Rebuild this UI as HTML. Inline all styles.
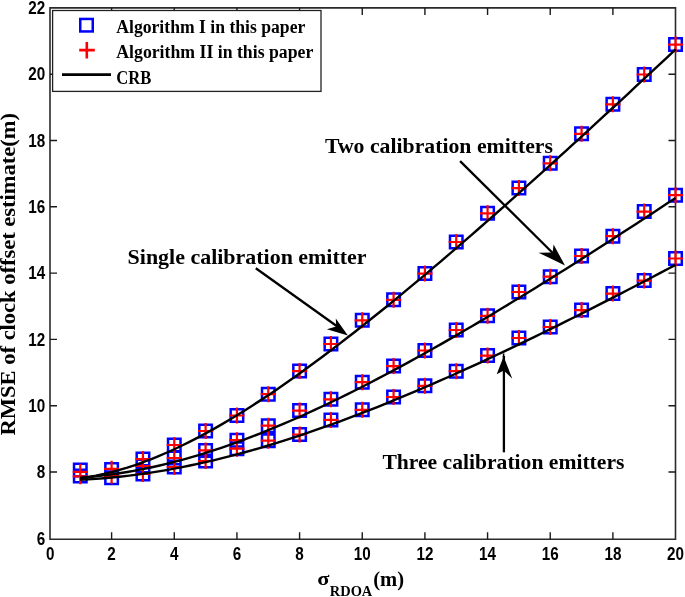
<!DOCTYPE html>
<html><head><meta charset="utf-8"><style>
html,body{margin:0;padding:0;background:#fff;width:685px;height:597px;overflow:hidden}
svg{display:block;will-change:transform}
text{fill:#000}
</style></head><body>
<svg width="685" height="597" viewBox="0 0 685 597">
<rect width="685" height="597" fill="#fff"/>
<path d="M50.0 7.9H675.5V539.3H50.0Z" fill="none" stroke="#2a2a2a" stroke-width="1.6"/>
<path d="M111.61 539.3v-7M111.61 7.9v7M174.27 539.3v-7M174.27 7.9v7M236.93 539.3v-7M236.93 7.9v7M299.59 539.3v-7M299.59 7.9v7M362.25 539.3v-7M362.25 7.9v7M424.91 539.3v-7M424.91 7.9v7M487.57 539.3v-7M487.57 7.9v7M550.23 539.3v-7M550.23 7.9v7M612.89 539.3v-7M612.89 7.9v7M50.0 472h7M675.5 472h-7M50.0 405.7h7M675.5 405.7h-7M50.0 339.4h7M675.5 339.4h-7M50.0 273.1h7M675.5 273.1h-7M50.0 206.8h7M675.5 206.8h-7M50.0 140.5h7M675.5 140.5h-7M50.0 74.2h7M675.5 74.2h-7" fill="none" stroke="#1a1a1a" stroke-width="1.4"/>
<path d="M74.03 463.75h12.5v12.5h-12.5zM105.36 463.25h12.5v12.5h-12.5zM136.69 452.85h12.5v12.5h-12.5zM168.02 438.75h12.5v12.5h-12.5zM199.35 424.75h12.5v12.5h-12.5zM230.68 409.25h12.5v12.5h-12.5zM262.01 387.95h12.5v12.5h-12.5zM293.34 364.85h12.5v12.5h-12.5zM324.67 337.75h12.5v12.5h-12.5zM356 314.05h12.5v12.5h-12.5zM387.33 293.55h12.5v12.5h-12.5zM418.66 267.35h12.5v12.5h-12.5zM449.99 235.75h12.5v12.5h-12.5zM481.32 207.05h12.5v12.5h-12.5zM512.65 181.85h12.5v12.5h-12.5zM543.98 157.05h12.5v12.5h-12.5zM575.31 127.55h12.5v12.5h-12.5zM606.64 98.05h12.5v12.5h-12.5zM637.97 68.25h12.5v12.5h-12.5zM669.3 38.35h12.5v12.5h-12.5zM74.03 469.75h12.5v12.5h-12.5zM105.36 471.55h12.5v12.5h-12.5zM136.69 459.75h12.5v12.5h-12.5zM168.02 451.75h12.5v12.5h-12.5zM199.35 444.15h12.5v12.5h-12.5zM230.68 433.95h12.5v12.5h-12.5zM262.01 419.45h12.5v12.5h-12.5zM293.34 404.35h12.5v12.5h-12.5zM324.67 393.05h12.5v12.5h-12.5zM356 375.95h12.5v12.5h-12.5zM387.33 359.85h12.5v12.5h-12.5zM418.66 344.25h12.5v12.5h-12.5zM449.99 323.75h12.5v12.5h-12.5zM481.32 309.55h12.5v12.5h-12.5zM512.65 285.75h12.5v12.5h-12.5zM543.98 270.45h12.5v12.5h-12.5zM575.31 249.75h12.5v12.5h-12.5zM606.64 229.95h12.5v12.5h-12.5zM637.97 205.35h12.5v12.5h-12.5zM669.3 188.95h12.5v12.5h-12.5zM74.03 469.75h12.5v12.5h-12.5zM105.36 471.55h12.5v12.5h-12.5zM136.69 467.75h12.5v12.5h-12.5zM168.02 460.75h12.5v12.5h-12.5zM199.35 454.75h12.5v12.5h-12.5zM230.68 442.45h12.5v12.5h-12.5zM262.01 434.45h12.5v12.5h-12.5zM293.34 428.25h12.5v12.5h-12.5zM324.67 413.65h12.5v12.5h-12.5zM356 403.55h12.5v12.5h-12.5zM387.33 390.75h12.5v12.5h-12.5zM418.66 379.55h12.5v12.5h-12.5zM449.99 364.95h12.5v12.5h-12.5zM481.32 349.35h12.5v12.5h-12.5zM512.65 331.75h12.5v12.5h-12.5zM543.98 320.75h12.5v12.5h-12.5zM575.31 303.85h12.5v12.5h-12.5zM606.64 287.35h12.5v12.5h-12.5zM637.97 274.35h12.5v12.5h-12.5zM669.3 252.25h12.5v12.5h-12.5z" fill="none" stroke="#0000ff" stroke-width="2.5"/>
<path d="M72.68 471.8h15.2M80.28 463.8v16M104.01 468.8h15.2M111.61 460.8v16M135.34 459.1h15.2M142.94 451.1v16M166.67 445h15.2M174.27 437v16M198 431h15.2M205.6 423v16M229.33 415.5h15.2M236.93 407.5v16M260.66 394.2h15.2M268.26 386.2v16M291.99 371.1h15.2M299.59 363.1v16M323.32 344h15.2M330.92 336v16M354.65 320.3h15.2M362.25 312.3v16M385.98 299.8h15.2M393.58 291.8v16M417.31 273.6h15.2M424.91 265.6v16M448.64 242h15.2M456.24 234v16M479.97 213.3h15.2M487.57 205.3v16M511.3 188.1h15.2M518.9 180.1v16M542.63 163.3h15.2M550.23 155.3v16M573.96 133.8h15.2M581.56 125.8v16M605.29 104.3h15.2M612.89 96.3v16M636.62 74.5h15.2M644.22 66.5v16M667.95 44.6h15.2M675.55 36.6v16M72.68 476.3h15.2M80.28 468.3v16M104.01 475.8h15.2M111.61 467.8v16M135.34 466h15.2M142.94 458v16M166.67 458h15.2M174.27 450v16M198 450.4h15.2M205.6 442.4v16M229.33 440.2h15.2M236.93 432.2v16M260.66 425.7h15.2M268.26 417.7v16M291.99 410.6h15.2M299.59 402.6v16M323.32 399.3h15.2M330.92 391.3v16M354.65 382.2h15.2M362.25 374.2v16M385.98 366.1h15.2M393.58 358.1v16M417.31 350.5h15.2M424.91 342.5v16M448.64 330h15.2M456.24 322v16M479.97 315.8h15.2M487.57 307.8v16M511.3 292h15.2M518.9 284v16M542.63 276.7h15.2M550.23 268.7v16M573.96 256h15.2M581.56 248v16M605.29 236.2h15.2M612.89 228.2v16M636.62 211.6h15.2M644.22 203.6v16M667.95 195.2h15.2M675.55 187.2v16M72.68 476.3h15.2M80.28 468.3v16M104.01 475.8h15.2M111.61 467.8v16M135.34 474h15.2M142.94 466v16M166.67 467h15.2M174.27 459v16M198 461h15.2M205.6 453v16M229.33 448.7h15.2M236.93 440.7v16M260.66 440.7h15.2M268.26 432.7v16M291.99 434.5h15.2M299.59 426.5v16M323.32 419.9h15.2M330.92 411.9v16M354.65 409.8h15.2M362.25 401.8v16M385.98 397h15.2M393.58 389v16M417.31 385.8h15.2M424.91 377.8v16M448.64 371.2h15.2M456.24 363.2v16M479.97 355.6h15.2M487.57 347.6v16M511.3 338h15.2M518.9 330v16M542.63 327h15.2M550.23 319v16M573.96 310.1h15.2M581.56 302.1v16M605.29 293.6h15.2M612.89 285.6v16M636.62 280.6h15.2M644.22 272.6v16M667.95 258.5h15.2M675.55 250.5v16" fill="none" stroke="#ff0000" stroke-width="2.2"/>
<polyline points="80.28,478.46 88.11,477.22 95.94,475.75 103.78,474.04 111.61,472.12 119.44,469.97 127.27,467.6 135.11,465.03 142.94,462.25 150.77,459.27 158.61,456.1 166.44,452.75 174.27,449.22 182.1,445.51 189.94,441.64 197.77,437.62 205.6,433.43 213.43,429.11 221.26,424.64 229.1,420.03 236.93,415.3 244.76,410.44 252.59,405.47 260.43,400.38 268.26,395.19 276.09,389.89 283.93,384.5 291.76,379.01 299.59,373.43 307.42,367.77 315.25,362.02 323.09,356.2 330.92,350.3 338.75,344.33 346.58,338.3 354.42,332.2 362.25,326.03 370.08,319.81 377.91,313.53 385.75,307.2 393.58,300.82 401.41,294.38 409.24,287.9 417.08,281.37 424.91,274.8 432.74,268.19 440.57,261.54 448.41,254.85 456.24,248.12 464.07,241.36 471.9,234.57 479.74,227.74 487.57,220.88 495.4,213.99 503.23,207.07 511.07,200.13 518.9,193.16 526.73,186.16 534.56,179.14 542.4,172.09 550.23,165.03 558.06,157.94 565.89,150.83 573.73,143.69 581.56,136.54 589.39,129.37 597.23,122.18 605.06,114.98 612.89,107.75 620.72,100.52 628.56,93.26 636.39,85.99 644.22,78.7 652.05,71.4 659.88,64.09 667.72,56.76 675.55,49.42" fill="none" stroke="#000" stroke-width="2.4" stroke-linejoin="round"/>
<polyline points="80.28,477.63 88.11,477.03 95.94,476.29 103.78,475.42 111.61,474.42 119.44,473.29 127.27,472.03 135.11,470.65 142.94,469.14 150.77,467.51 158.61,465.77 166.44,463.9 174.27,461.92 182.1,459.83 189.94,457.63 197.77,455.33 205.6,452.92 213.43,450.4 221.26,447.79 229.1,445.08 236.93,442.28 244.76,439.38 252.59,436.4 260.43,433.33 268.26,430.18 276.09,426.95 283.93,423.64 291.76,420.25 299.59,416.79 307.42,413.26 315.25,409.66 323.09,405.99 330.92,402.26 338.75,398.47 346.58,394.61 354.42,390.7 362.25,386.73 370.08,382.71 377.91,378.64 385.75,374.51 393.58,370.34 401.41,366.11 409.24,361.85 417.08,357.53 424.91,353.18 432.74,348.78 440.57,344.35 448.41,339.87 456.24,335.36 464.07,330.81 471.9,326.23 479.74,321.61 487.57,316.96 495.4,312.28 503.23,307.57 511.07,302.83 518.9,298.06 526.73,293.27 534.56,288.44 542.4,283.59 550.23,278.72 558.06,273.82 565.89,268.9 573.73,263.95 581.56,258.99 589.39,254 597.23,248.99 605.06,243.96 612.89,238.91 620.72,233.84 628.56,228.76 636.39,223.65 644.22,218.53 652.05,213.39 659.88,208.24 667.72,203.07 675.55,197.88" fill="none" stroke="#000" stroke-width="2.4" stroke-linejoin="round"/>
<polyline points="80.28,479.85 88.11,479.42 95.94,478.9 103.78,478.28 111.61,477.57 119.44,476.76 127.27,475.87 135.11,474.88 142.94,473.81 150.77,472.64 158.61,471.39 166.44,470.06 174.27,468.63 182.1,467.13 189.94,465.54 197.77,463.87 205.6,462.12 213.43,460.3 221.26,458.4 229.1,456.42 236.93,454.37 244.76,452.25 252.59,450.06 260.43,447.8 268.26,445.48 276.09,443.08 283.93,440.63 291.76,438.11 299.59,435.54 307.42,432.9 315.25,430.21 323.09,427.46 330.92,424.65 338.75,421.8 346.58,418.89 354.42,415.93 362.25,412.92 370.08,409.87 377.91,406.77 385.75,403.62 393.58,400.43 401.41,397.2 409.24,393.93 417.08,390.61 424.91,387.26 432.74,383.87 440.57,380.45 448.41,376.98 456.24,373.49 464.07,369.96 471.9,366.4 479.74,362.8 487.57,359.18 495.4,355.52 503.23,351.84 511.07,348.12 518.9,344.38 526.73,340.62 534.56,336.82 542.4,333.01 550.23,329.16 558.06,325.3 565.89,321.41 573.73,317.5 581.56,313.56 589.39,309.61 597.23,305.63 605.06,301.63 612.89,297.62 620.72,293.58 628.56,289.53 636.39,285.46 644.22,281.37 652.05,277.27 659.88,273.14 667.72,269 675.55,264.85" fill="none" stroke="#000" stroke-width="2.4" stroke-linejoin="round"/>
<path d="M460.1 161.1L553 253.2" stroke="#000" stroke-width="2.3" fill="none"/>
<path d="M565 265.5L553.6 244.6L552.6 252.4L538.6 252.7Z" fill="#000"/>
<path d="M255.8 268.2L337 326.2" stroke="#000" stroke-width="2.3" fill="none"/>
<path d="M347.9 335.6L335.8 318.4L336.2 326.4L326.9 329.3Z" fill="#000"/>
<path d="M503.9 452.3L503.9 356" stroke="#000" stroke-width="2.3" fill="none"/>
<path d="M503.6 358L503.6 353.5" stroke="#000" stroke-width="1.6" fill="none"/>
<path d="M503.6 356.5L496.7 374.3L503.8 370.5L512.3 378.7Z" fill="#000"/>
<text x="325.0" y="152.9" font-size="21.5" font-family="Liberation Serif" font-weight="bold" textLength="228" lengthAdjust="spacingAndGlyphs" >Two calibration emitters</text>
<text x="127.6" y="263.7" font-size="21.5" font-family="Liberation Serif" font-weight="bold" textLength="239" lengthAdjust="spacingAndGlyphs" >Single calibration emitter</text>
<text x="382.4" y="468.5" font-size="21.5" font-family="Liberation Serif" font-weight="bold" textLength="242" lengthAdjust="spacingAndGlyphs" >Three calibration emitters</text>
<rect x="52.6" y="10.5" width="268.4" height="80.9" fill="#fff" stroke="#222" stroke-width="1.3"/>
<rect x="80.25" y="18.95" width="12.5" height="12.5" fill="none" stroke="#0000ff" stroke-width="2.5"/>
<path d="M79.2 50.1h15.6M86.8 42.1v16.3" stroke="#ff0000" stroke-width="2.6"/>
<path d="M62 74.6H111" stroke="#000" stroke-width="2.6"/>
<text x="116.3" y="32.6" font-size="18.6" font-family="Liberation Serif" font-weight="bold" textLength="189" lengthAdjust="spacingAndGlyphs" >Algorithm I in this paper</text>
<text x="116.3" y="58.4" font-size="18.6" font-family="Liberation Serif" font-weight="bold" textLength="197" lengthAdjust="spacingAndGlyphs" >Algorithm II in this paper</text>
<text x="116.3" y="84.4" font-size="18.6" font-family="Liberation Serif" font-weight="bold" textLength="35" lengthAdjust="spacingAndGlyphs" >CRB</text>
<text transform="translate(50.15 559.8) scale(0.82 1)" text-anchor="middle" font-size="18.6" font-family="Liberation Sans" font-weight="bold">0</text>
<text transform="translate(111.61 559.8) scale(0.82 1)" text-anchor="middle" font-size="18.6" font-family="Liberation Sans" font-weight="bold">2</text>
<text transform="translate(174.27 559.8) scale(0.82 1)" text-anchor="middle" font-size="18.6" font-family="Liberation Sans" font-weight="bold">4</text>
<text transform="translate(236.93 559.8) scale(0.82 1)" text-anchor="middle" font-size="18.6" font-family="Liberation Sans" font-weight="bold">6</text>
<text transform="translate(299.59 559.8) scale(0.82 1)" text-anchor="middle" font-size="18.6" font-family="Liberation Sans" font-weight="bold">8</text>
<text transform="translate(362.25 559.8) scale(0.82 1)" text-anchor="middle" font-size="18.6" font-family="Liberation Sans" font-weight="bold">10</text>
<text transform="translate(424.91 559.8) scale(0.82 1)" text-anchor="middle" font-size="18.6" font-family="Liberation Sans" font-weight="bold">12</text>
<text transform="translate(487.57 559.8) scale(0.82 1)" text-anchor="middle" font-size="18.6" font-family="Liberation Sans" font-weight="bold">14</text>
<text transform="translate(550.23 559.8) scale(0.82 1)" text-anchor="middle" font-size="18.6" font-family="Liberation Sans" font-weight="bold">16</text>
<text transform="translate(612.89 559.8) scale(0.82 1)" text-anchor="middle" font-size="18.6" font-family="Liberation Sans" font-weight="bold">18</text>
<text transform="translate(675.55 559.8) scale(0.82 1)" text-anchor="middle" font-size="18.6" font-family="Liberation Sans" font-weight="bold">20</text>
<text transform="translate(45.3 544.5) scale(0.82 1)" text-anchor="end" font-size="18.6" font-family="Liberation Sans" font-weight="bold">6</text>
<text transform="translate(45.3 478.2) scale(0.82 1)" text-anchor="end" font-size="18.6" font-family="Liberation Sans" font-weight="bold">8</text>
<text transform="translate(45.3 411.9) scale(0.82 1)" text-anchor="end" font-size="18.6" font-family="Liberation Sans" font-weight="bold">10</text>
<text transform="translate(45.3 345.6) scale(0.82 1)" text-anchor="end" font-size="18.6" font-family="Liberation Sans" font-weight="bold">12</text>
<text transform="translate(45.3 279.3) scale(0.82 1)" text-anchor="end" font-size="18.6" font-family="Liberation Sans" font-weight="bold">14</text>
<text transform="translate(45.3 213) scale(0.82 1)" text-anchor="end" font-size="18.6" font-family="Liberation Sans" font-weight="bold">16</text>
<text transform="translate(45.3 146.7) scale(0.82 1)" text-anchor="end" font-size="18.6" font-family="Liberation Sans" font-weight="bold">18</text>
<text transform="translate(45.3 80.4) scale(0.82 1)" text-anchor="end" font-size="18.6" font-family="Liberation Sans" font-weight="bold">20</text>
<text transform="translate(45.3 14.1) scale(0.82 1)" text-anchor="end" font-size="18.6" font-family="Liberation Sans" font-weight="bold">22</text>
<text transform="translate(15.4 435.4) rotate(-90)" font-size="20" font-family="Liberation Serif" font-weight="bold" textLength="322.5" lengthAdjust="spacingAndGlyphs">RMSE of clock offset estimate(m)</text>
<text transform="translate(317.2 585) scale(1.15 1)" font-size="19.5" font-family="Liberation Serif" font-weight="bold">&#963;</text>
<text x="329.8" y="596" font-size="14" font-family="Liberation Serif" font-weight="bold" textLength="42.5" lengthAdjust="spacingAndGlyphs">RDOA</text>
<text x="373.2" y="586.3" font-size="20.6" font-family="Liberation Serif" font-weight="bold">(m)</text>
</svg>
</body></html>
